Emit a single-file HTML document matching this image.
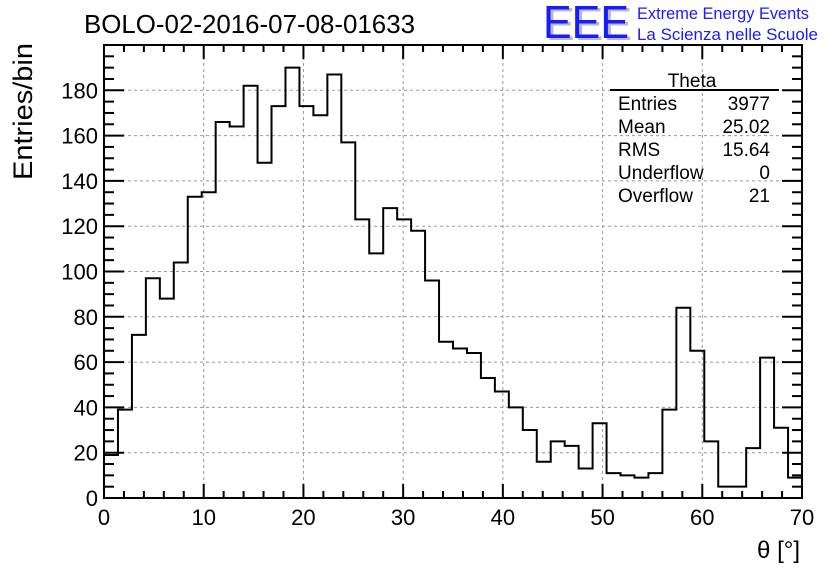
<!DOCTYPE html>
<html><head><meta charset="utf-8"><style>
body{margin:0;background:#fff;}
svg{display:block;font-family:"Liberation Sans",sans-serif;}
</style></head><body>
<svg id="c" width="836" height="572">
<text x="84" y="33" font-size="26" textLength="331" lengthAdjust="spacingAndGlyphs">BOLO-02-2016-07-08-01633</text>
<text x="546" y="40" font-size="46" fill="#bbb" textLength="86" lengthAdjust="spacingAndGlyphs">EEE</text>
<text x="543" y="38" font-size="46" fill="#1a1aff" textLength="86" lengthAdjust="spacingAndGlyphs">EEE</text>
<text x="637" y="19" font-size="17" fill="#1a1aff" textLength="172" lengthAdjust="spacingAndGlyphs">Extreme Energy Events</text>
<text x="637" y="40" font-size="17" fill="#1a1aff" textLength="181" lengthAdjust="spacingAndGlyphs">La Scienza nelle Scuole</text>
<text transform="translate(32,180) rotate(-90)" font-size="27" textLength="137" lengthAdjust="spacingAndGlyphs">Entries/bin</text>
<text x="800" y="558" font-size="24" text-anchor="end">θ [°]</text>
<g id="grid"></g><g id="ticks"></g>
<path id="hist" fill="none" stroke="#000" stroke-width="2"></path>
<rect x="104" y="45" width="698" height="453" fill="none" stroke="#000" stroke-width="2"/>
<g font-size="19">
<text x="692" y="87" text-anchor="middle">Theta</text>
<line x1="610" y1="90" x2="779" y2="90" stroke="#000" stroke-width="2"/>
<text x="618" y="110">Entries</text><text x="770" y="110" text-anchor="end">3977</text>
<text x="618" y="133">Mean</text><text x="770" y="133" text-anchor="end">25.02</text>
<text x="618" y="156">RMS</text><text x="770" y="156" text-anchor="end">15.64</text>
<text x="618" y="179">Underflow</text><text x="770" y="179" text-anchor="end">0</text>
<text x="618" y="202">Overflow</text><text x="770" y="202" text-anchor="end">21</text>
</g>
</svg>
<script>
const binWidth = 1.4;
const counts = [19,39,72,97,88,104,133,135,166,164,182,148,173,190,173,169,187,157,123,108,128,123,118,96,69,66,64,53,47,40,30,16,25,23,13,33,11,10,9,11,39,84,65,25,5,5,22,62,31,9];
const xTicks = [0,10,20,30,40,50,60,70];
const yTicks = [0,20,40,60,80,100,120,140,160,180];
const X0=104,X1=802,Y0=498,Y1=45;
const xs=v=>X0+(v-0)/70*(X1-X0);
const ys=v=>Y0-v/200*(Y0-Y1);
const NS="http://www.w3.org/2000/svg";
const grid=document.getElementById('grid'), ticks=document.getElementById('ticks');
function mk(tag,attrs,parent){const e=document.createElementNS(NS,tag);for(const k in attrs)e.setAttribute(k,attrs[k]);parent.appendChild(e);return e;}
xTicks.forEach(v=>{
  if(v>0&&v<70){const g=mk('line',{x1:xs(v),x2:xs(v),y1:Y1,y2:Y0,stroke:'#999','stroke-dasharray':'3,3'},grid);
  
  }
  const t=mk('text',{x:xs(v),y:Y0+27,'font-size':22,'text-anchor':'middle'},ticks);
  t.textContent=v;
  
  
});
for(let v=0;v<=70;v+=2){const L=(v%10===0)?14:7;
  mk('line',{x1:xs(v),x2:xs(v),y1:Y0,y2:Y0-L,stroke:'#000','stroke-width':2},ticks);
  mk('line',{x1:xs(v),x2:xs(v),y1:Y1,y2:Y1+L,stroke:'#000','stroke-width':2},ticks);}
yTicks.forEach(v=>{
  if(v>0){const g=mk('line',{x1:X0,x2:X1,y1:ys(v),y2:ys(v),stroke:'#999','stroke-dasharray':'3,3'},grid);
  
  }
  const t=mk('text',{x:X0-6,y:ys(v)+8,'font-size':22,'text-anchor':'end'},ticks);
  t.textContent=v;
  
  
});
for(let v=0;v<=200;v+=5){const L=(v%20===0)?20:10;
  mk('line',{x1:X0,x2:X0+L,y1:ys(v),y2:ys(v),stroke:'#000','stroke-width':2},ticks);
  mk('line',{x1:X1,x2:X1-L,y1:ys(v),y2:ys(v),stroke:'#000','stroke-width':2},ticks);}
let d='M'+xs(0)+','+ys(0);
counts.forEach((c,i)=>{d+=' L'+xs(i*binWidth)+','+ys(c)+' L'+xs((i+1)*binWidth)+','+ys(c);});
document.getElementById('hist').setAttribute('d',d);
</script>
</body></html>
